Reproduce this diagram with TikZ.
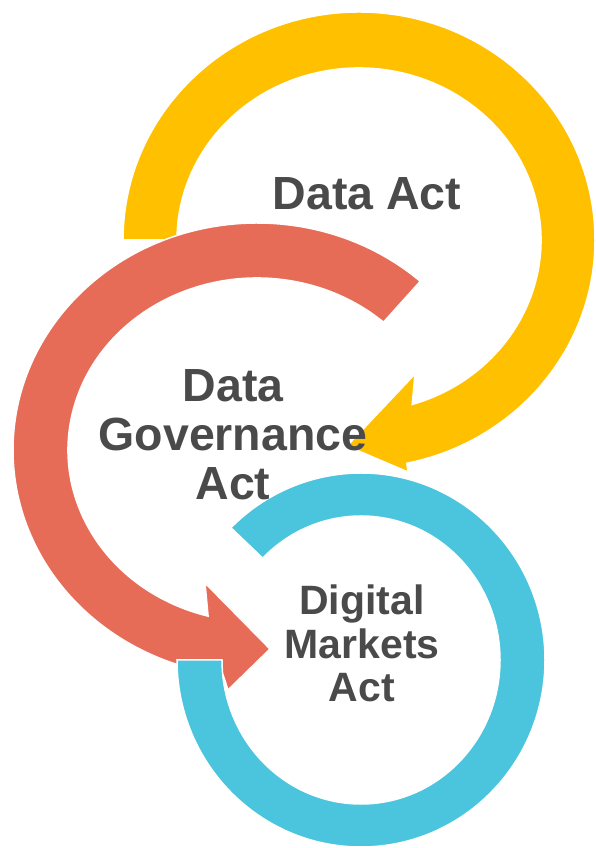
\documentclass[tikz,border=0pt]{standalone}
\usepackage{fontspec}
\setmainfont{Liberation Sans}
\usetikzlibrary{calc}
\definecolor{actyellow}{HTML}{FFC000}
\definecolor{actred}{HTML}{E66C57}
\definecolor{actblue}{HTML}{4BC4DD}
\definecolor{acttext}{HTML}{4A4A4A}
\tikzset{
	ring/.style={draw=white, line width=1.5pt, line join=miter},
	bigact/.style={font=\bfseries\fontsize{46.5}{49}\selectfont, text=acttext, align=center, inner sep=0pt},
	smallact/.style={font=\bfseries\fontsize{41}{43.5}\selectfont, text=acttext, align=center, inner sep=0pt}
}

\begin{document}
\begin{tikzpicture}[x=1pt, y=1pt]
	\useasboundingbox (0,0) rectangle (595,848);
	\coordinate (yc) at (359,608);
	\coordinate (rc) at (257,398);
	\coordinate (bc) at (361,188);
	% Data Act arrow
	\path[ring, fill=actyellow] ($(yc)+(180:236pt and 228pt)$)
		arc[start angle=180, end angle=-78.3, x radius=236pt, y radius=228pt]
		-- (408,376) -- (347,402) -- (415,474)
		-- ($(yc)+(-73:182pt and 172pt)$)
		arc[start angle=-73, end angle=180, x radius=182pt, y radius=172pt] -- cycle;
	% Data Governance Act arrow
	\path[ring, fill=actred] ($(rc)+(48:244pt and 227pt)$)
		arc[start angle=48, end angle=262, x radius=244pt, y radius=227pt]
		-- (228,158) -- (270,199) -- (205,265)
		-- ($(rc)+(255:189pt and 172pt)$)
		arc[start angle=255, end angle=48, x radius=189pt, y radius=172pt] -- cycle;
	% Digital Markets Act ring
	\path[ring, fill=actblue] ($(bc)+(180:184pt and 187pt)$)
		arc[start angle=180, end angle=495, x radius=184pt, y radius=187pt]
		-- ($(bc)+(495:139pt and 144pt)$)
		arc[start angle=495, end angle=180, x radius=139pt, y radius=144pt] -- cycle;
	% base anchor sits on the last line
	\node[bigact, anchor=base] (dataact) at (367,638) {Data Act};
	\node[bigact, anchor=base] (dga) at (233,348) {Data\\Governance\\Act};
	\node[smallact, anchor=base] (dma) at (362,146) {Digital\\Markets\\Act};
\end{tikzpicture}
\end{document}
